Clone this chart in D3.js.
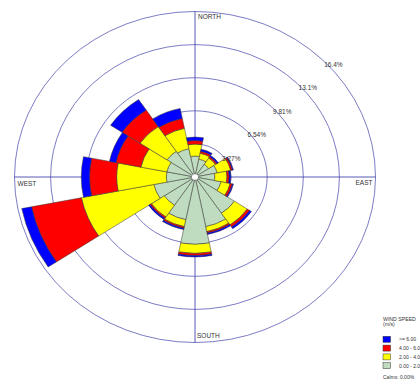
<!DOCTYPE html>
<html>
<head>
<meta charset="utf-8">
<script src="https://cdn.jsdelivr.net/npm/d3@7"></script>
<style>
  body { margin: 0; background: #fff; }
  svg { display: block; font-family: "Liberation Sans", Arial, sans-serif; }
</style>
</head>
<body>
<svg id="chart" width="420" height="380"></svg>
<script>
// directions, clockwise from north
var directions = ['N', 'NNE', 'NE', 'ENE', 'E', 'ESE', 'SE', 'SSE', 'S', 'SSW', 'SW', 'WSW', 'W', 'WNW', 'NW', 'NNW'];
// frequency (%) per speed class, per direction
var speed0to2 = [2.07, 1.8, 1.5, 2.05, 1.8, 2.4, 4.3, 5.0, 6.65, 4.3, 3.35, 3.8, 2.6, 2.6, 3.05, 2.85];
var speed2to4 = [1.18, 0.6, 0.75, 1.25, 1.1, 0.85, 1.4, 0.5, 0.9, 0.7, 1.4, 6.7, 4.5, 2.4, 2.95, 2.05];
var speed4to6 = [0.35, 0.2, 0.15, 0.15, 0.2, 0.2, 0.25, 0.15, 0.2, 0.15, 0.15, 4.6, 2.45, 2.3, 1.95, 1.0];
var speed6up  = [0.35, 0.2, 0.15, 0.1, 0.15, 0.1, 0.2, 0.15, 0.15, 0.15, 0.15, 0.9, 0.75, 0.6, 1.25, 1.0];

var speedClasses = ['0.00 - 2.00', '2.00 - 4.00', '4.00 - 6.00', '>= 6.00'];
var speedColors = ['#c0dcc0', '#ffff00', '#ff0000', '#0000ff'];
var ringValues = [3.27, 6.54, 9.81, 13.08, 16.35];
var ringLabels = ['3.27%', '6.54%', '9.81%', '13.1%', '16.4%'];
var calmsLabel = 'Calms: 0.00%';

// plot geometry (the rose is drawn as a slightly flattened ellipse)
var cx = 195, cy = 177, rx = 180.5, ry = 165.5;
var ky = ry / rx;

var svg = d3.select('#chart');

var r = d3.scaleLinear().domain([0, 16.35]).range([0, rx]);
var angle = d3.scaleLinear().domain([0, directions.length]).range([0, 2 * Math.PI]);
var half = Math.PI / directions.length;

// rows for stacking
var rows = directions.map(function(d, i) {
  return { dir: d, s0: speed0to2[i], s1: speed2to4[i], s2: speed4to6[i], s3: speed6up[i] };
});
var stack = d3.stack().keys(['s0', 's1', 's2', 's3']);
var series = stack(rows);

var rose = svg.append('g')
  .attr('transform', 'translate(' + cx + ',' + cy + ') scale(1,' + ky + ')');

// rings
rose.selectAll('circle.ring')
  .data(ringValues)
  .enter()
  .append('circle')
    .attr('class', 'ring')
    .attr('r', function(d) { return r(d); })
    .attr('fill', 'none')
    .attr('stroke', '#5a5ab4')
    .attr('stroke-width', 0.8)
    .attr('vector-effect', 'non-scaling-stroke');

// axes
rose.append('line')
  .attr('x1', -rx).attr('x2', rx).attr('y1', 0).attr('y2', 0)
  .attr('stroke', '#4848b0').attr('stroke-width', 0.9)
  .attr('vector-effect', 'non-scaling-stroke');
rose.append('line')
  .attr('x1', 0).attr('x2', 0).attr('y1', -rx).attr('y2', rx)
  .attr('stroke', '#4848b0').attr('stroke-width', 0.9)
  .attr('vector-effect', 'non-scaling-stroke');

// petals
var arc = d3.arc();
series.forEach(function(s, k) {
  rose.append('g')
    .selectAll('path')
    .data(s)
    .enter()
    .append('path')
      .attr('d', function(d, i) {
        return arc({
          innerRadius: r(d[0]),
          outerRadius: r(d[1]),
          startAngle: angle(i) - half,
          endAngle: angle(i) + half
        });
      })
      .attr('fill', speedColors[k])
      .attr('stroke', '#333')
      .attr('stroke-width', 0.5)
      .attr('vector-effect', 'non-scaling-stroke');
});

// calm circle
rose.append('circle')
  .attr('r', 3.6)
  .attr('fill', '#fff')
  .attr('stroke', '#444')
  .attr('stroke-width', 0.5)
  .attr('vector-effect', 'non-scaling-stroke');

// ring labels at 45 degrees
svg.selectAll('text.ringlabel')
  .data(ringValues)
  .enter()
  .append('text')
    .attr('class', 'ringlabel')
    .attr('x', function(d) { return cx + r(d) * Math.SQRT1_2 + 1.5; })
    .attr('y', function(d) { return cy - r(d) * ky * Math.SQRT1_2 + 7; })
    .attr('font-size', 6.5)
    .attr('fill', '#333')
    .text(function(d, i) { return ringLabels[i]; });

// compass labels
var compass = [
  { t: 'NORTH', x: cx + 3, y: cy - ry + 7, a: 'start' },
  { t: 'SOUTH', x: cx + 2, y: cy + ry - 5, a: 'start' },
  { t: 'WEST', x: cx - rx + 3, y: cy + 9, a: 'start' },
  { t: 'EAST', x: cx + rx - 3, y: cy + 8, a: 'end' }
];
svg.selectAll('text.compass')
  .data(compass)
  .enter()
  .append('text')
    .attr('class', 'compass')
    .attr('x', function(d) { return d.x; })
    .attr('y', function(d) { return d.y; })
    .attr('text-anchor', function(d) { return d.a; })
    .attr('font-size', 6.5)
    .attr('fill', '#333')
    .text(function(d) { return d.t; });

// legend
var legend = svg.append('g').attr('transform', 'translate(383,0)');
legend.append('text').attr('x', 0).attr('y', 321).attr('font-size', 5.2).attr('fill', '#333').text('WIND SPEED');
legend.append('text').attr('x', 0).attr('y', 326).attr('font-size', 5.2).attr('fill', '#333').text('(m/s)');
var order = [3, 2, 1, 0];
order.forEach(function(k, j) {
  var y = 336.3 + j * 8.8;
  legend.append('rect')
    .attr('x', 0).attr('y', y).attr('width', 7.5).attr('height', 6)
    .attr('fill', speedColors[k]).attr('stroke', '#333').attr('stroke-width', 0.5);
  legend.append('text')
    .attr('x', 16).attr('y', y + 4.8)
    .attr('font-size', 5)
    .attr('fill', '#333')
    .text(speedClasses[k]);
});
legend.append('text').attr('x', 0).attr('y', 378.5).attr('font-size', 5).attr('fill', '#333').text(calmsLabel);
</script>
</body>
</html>
